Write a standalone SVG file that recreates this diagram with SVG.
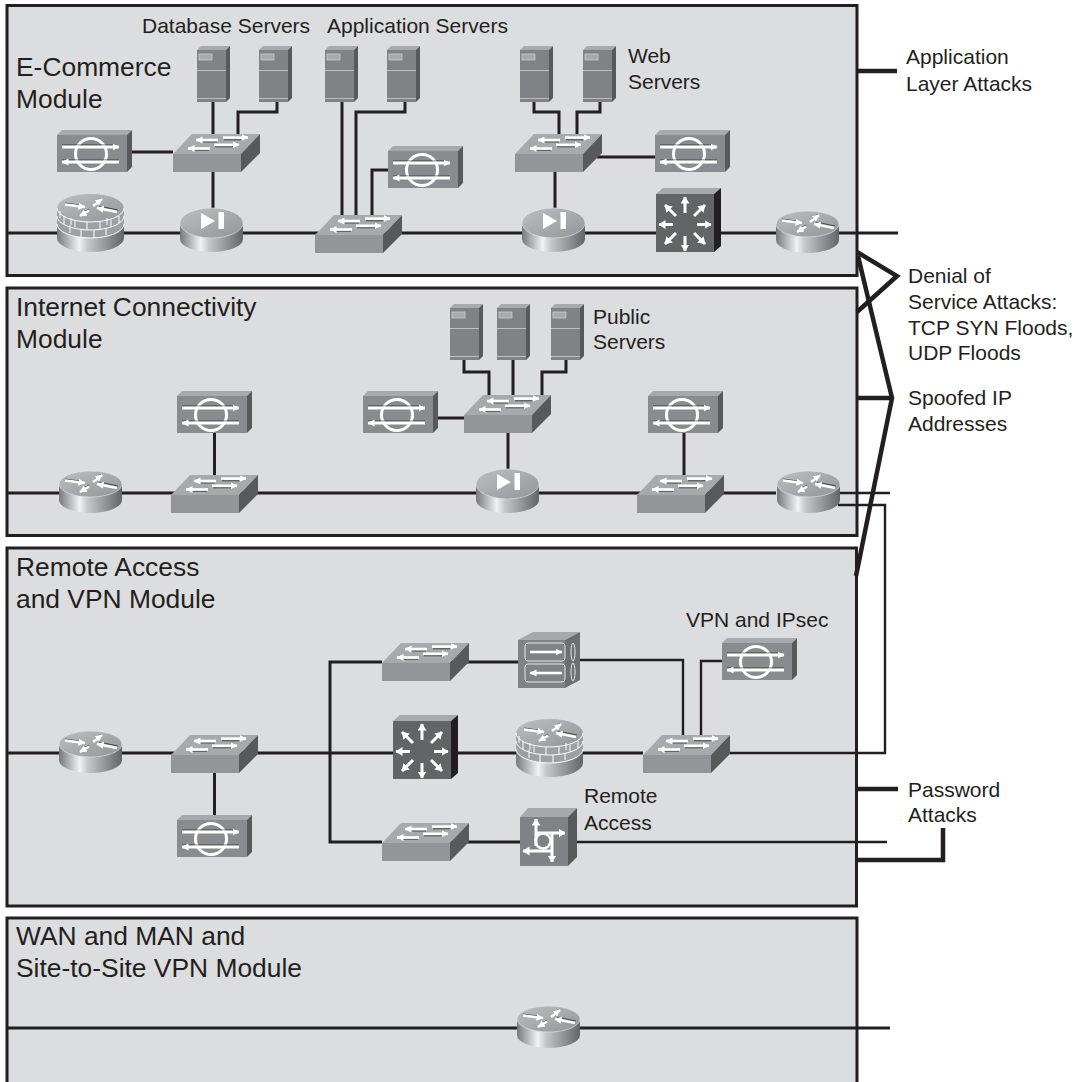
<svg xmlns="http://www.w3.org/2000/svg" width="1079" height="1082" viewBox="0 0 1079 1082">
<style>
text{font-family:"Liberation Sans",Arial,sans-serif;fill:#231f20}
.t{font-size:26.4px}
.s{font-size:21px}
.panel{fill:#dcddde;stroke:#231f20;stroke-width:3}
.c{fill:none;stroke:#231f20;stroke-width:3}
.n{fill:none;stroke:#231f20;stroke-width:2.4}
.k{fill:none;stroke:#231f20;stroke-width:4.5;stroke-linejoin:miter}
.w{fill:none;stroke:#fff;stroke-width:2.6}
.sh{fill:none;stroke:#231f20;stroke-width:.7}
.wf{fill:#fff}
.top{fill:#a7a9ac}
.fr{fill:#939598}
.mid{fill:#898b8e}
.srv{fill:#808285}
.dk{fill:#58595b}
</style>
<defs>
<linearGradient id="metal" x1="0" x2="1" y1="0" y2="0">
<stop offset="0" stop-color="#77787b"/><stop offset=".33" stop-color="#f1f2f2"/><stop offset=".45" stop-color="#c7c8ca"/><stop offset="1" stop-color="#636466"/>
</linearGradient>
<linearGradient id="lid" x1="0" x2="1" y1="0" y2="1">
<stop offset="0" stop-color="#bcbec0"/><stop offset="1" stop-color="#939598"/>
</linearGradient>
<marker id="h" markerUnits="userSpaceOnUse" markerWidth="9" markerHeight="9" refX="6.5" refY="4" orient="auto"><path d="M0,0.5 L7,4 L0,7.5Z" fill="#fff"/></marker>
<marker id="hb" markerUnits="userSpaceOnUse" markerWidth="9" markerHeight="10" refX="6.500" refY="4.500" orient="auto"><path d="M0,0 L7,4.500 L0,9Z" fill="#fff"/></marker>
<g id="switch">
<polygon class="fr" points="0,20 68,20 68,38 0,38"/>
<polygon class="top" points="0,20 19,0 87,0 68,20"/>
<polygon class="dk" points="68,20 87,0 87,19 68,38"/>
<path class="sh" d="M28,8 H44 M51,5.800 H68 M18,16.200 H36 M42,12.800 H60"/>
<path class="w" marker-end="url(#h)" d="M45,6 H23"/>
<path class="w" marker-end="url(#h)" d="M50,3.600 H75"/>
<path class="w" marker-end="url(#h)" d="M37,14.500 H15"/>
<path class="w" marker-end="url(#h)" d="M41,10.800 H66"/>
</g>
<g id="idsbox">
<polygon class="mid" points="0,5 70,5 70,42 0,42"/>
<polygon class="top" points="0,5 5,0 75,0 70,5"/>
<polygon class="dk" points="70,5 75,0 75,37 70,42"/>
<ellipse cx="34" cy="24" rx="15.500" ry="15.500" fill="#898b8e" stroke="#fff" stroke-width="3"/>
<path class="sh" d="M5,15 H58 M5,30 H62"/>
<path fill="none" stroke="#fff" stroke-width="3" marker-end="url(#h)" d="M5,17 H62"/>
<path fill="none" stroke="#fff" stroke-width="3" marker-end="url(#h)" d="M62,32 H5"/>
</g>
<g id="rarrows">
<path class="sh" d="M6,8 L24,10.500 M35,9 L42,3 M40,11 L59,15 M30,14 L22,19"/>
<path class="w" stroke-width="2" marker-end="url(#h)" d="M6,9.500 L26,12"/>
<path class="w" marker-end="url(#h)" d="M34,11 L43,4"/>
<path class="w" marker-end="url(#h)" d="M58,17 L38,13"/>
<path class="w" marker-end="url(#h)" d="M30,15.500 L21,21"/>
</g>
<g id="router">
<path fill="url(#metal)" d="M0,13 V29 A31.500,13 0 0 0 63,29 V13Z"/>
<ellipse cx="31.500" cy="13" rx="31.500" ry="13" fill="url(#lid)" stroke="#e6e7e8" stroke-width=".6"/>
<use href="#rarrows"/>
</g>
<g id="ids">
<path fill="url(#metal)" d="M0,15 V31 A31.500,13 0 0 0 63,31 V15Z"/>
<ellipse cx="31.500" cy="15" rx="31.500" ry="15" fill="url(#lid)" stroke="#e6e7e8" stroke-width=".6"/>
<polygon class="wf" points="21,5 21,21 35,13"/>
<rect class="wf" x="38.500" y="4" width="5.500" height="17"/>
</g>
<g id="fwrouter">
<path fill="url(#metal)" d="M0,14 V44 A33.500,14 0 0 0 67,44 V14Z"/>
<path fill="#9d9fa2" d="M0,14 V30 A33.500,14 0 0 0 67,30 V14Z"/>
<ellipse cx="33.500" cy="14" rx="33.500" ry="14" fill="url(#lid)"/>
<path fill="none" stroke="#fff" stroke-width="1" d="M0,14 A33.500,14 0 0 0 67,14 M0,22 A33.500,14 0 0 0 67,22 M0,30 A33.500,14 0 0 0 67,30"/>
<path fill="none" stroke="#fff" stroke-width="1" d="M7,22 V30 M18,26 V33 M30,28 V36 M43,28 V35 M54,26 V33 M62,22 V29 M13,31 V39 M24,36 V43 M37,36 V44 M49,34 V41 M3,17 V24 M14,24 V31 M50,24 V31"/>
<use href="#rarrows" transform="translate(2,1)"/>
</g>
<g id="mls">
<polygon fill="#636466" points="0,6 58,6 58,64 0,64"/>
<polygon class="top" points="0,6 7,0 65,0 58,6"/>
<polygon fill="#231f20" points="58,6 65,0 65,58 58,64"/>
<g fill="none" stroke="#fff" stroke-width="3">
<path marker-end="url(#hb)" d="M29,25 V9"/>
<path marker-end="url(#hb)" d="M29,48 V63"/>
<path marker-end="url(#hb)" d="M17,36.500 H3"/>
<path marker-end="url(#hb)" d="M41,36.500 H55"/>
<path marker-end="url(#hb)" d="M20,28 L9,17"/>
<path marker-end="url(#hb)" d="M38,28 L49,17"/>
<path marker-end="url(#hb)" d="M20,45 L9,56"/>
<path marker-end="url(#hb)" d="M38,45 L49,56"/>
</g>
</g>
<g id="server">
<polygon class="srv" points="0,4 29,4 29,56 0,56"/>
<polygon class="top" points="0,4 4,0 33,0 29,4"/>
<polygon class="dk" points="29,4 33,0 33,52 29,56"/>
<rect x="2" y="8" width="13" height="6" fill="#a7a9ac" stroke="#d1d3d4" stroke-width=".7"/>
<path stroke="#bcbec0" stroke-width="1" d="M0,24.500 H29 M0,52.500 H29"/>
</g>
<g id="vpnc">
<polygon class="srv" points="0,8 47,8 47,56 0,56"/>
<polygon class="top" points="0,8 15,0 62,0 47,8"/>
<polygon fill="#6d6e71" points="47,8 62,0 62,48 47,56"/>
<rect x="7" y="11" width="40" height="18" rx="3" fill="none" stroke="#e6e7e8" stroke-width="1"/>
<rect x="7" y="32" width="40" height="18" rx="3" fill="none" stroke="#e6e7e8" stroke-width="1"/>
<path class="w" marker-end="url(#h)" d="M12,20 H44"/>
<path class="w" marker-end="url(#h)" d="M44,41 H12"/>
<ellipse cx="55" cy="20" rx="2" ry="9" fill="none" stroke="#e6e7e8" stroke-width="1"/>
<ellipse cx="55" cy="40" rx="2" ry="9" fill="none" stroke="#e6e7e8" stroke-width="1"/>
</g>
<g id="access">
<polygon class="srv" points="0,9 48,9 48,58 0,58"/>
<polygon class="top" points="0,9 8,0 57,0 48,9"/>
<polygon class="dk" points="48,9 57,0 57,49 48,58"/>
<circle cx="23" cy="33" r="7.500" fill="none" stroke="#fff" stroke-width="2.500"/>
<path fill="none" stroke="#fff" stroke-width="3" marker-end="url(#hb)" d="M16,38 V11"/>
<path fill="none" stroke="#fff" stroke-width="3" marker-end="url(#hb)" d="M16,25 H45"/>
<path fill="none" stroke="#fff" stroke-width="3" marker-end="url(#hb)" d="M32,25 V54"/>
<path fill="none" stroke="#fff" stroke-width="3" marker-end="url(#hb)" d="M32,43 H3"/>
</g>
</defs>
<rect width="1079" height="1082" fill="#fff"/>
<g id="modules">
<rect class="panel" x="7" y="5.500" width="850" height="270"/>
<rect class="panel" x="7" y="288" width="850" height="247.500"/>
<rect class="panel" x="7" y="548" width="849.500" height="358"/>
<rect class="panel" x="7" y="918" width="850" height="200"/>
</g>
<g id="connectors">
<path class="c" d="M8,233 H898"/>
<path class="c" d="M132,152 H173 M213,102 V134 M277,102 V112 H238 V134 M213,172 V208"/>
<path class="c" d="M342,102 V215 M405,102 V112 H356 V215 M388,170 H372 V215"/>
<path class="c" d="M534,102 V112 H559 V134 M600,102 V112 H577 V134 M597,157 H655 M555,172 V208"/>
<path class="c" d="M8,493 H776"/>
<path class="n" d="M840,493 H890 M838,505 H885 V753 H730"/>
<path class="c" d="M214.500,433 V475 M464,360 V372 H489 V395 M513,360 V395 M566,360 V372 H542 V395 M438,418 H464 M508,433 V469 M684,433 V475"/>
<path class="c" d="M8,753 H643 M382,662 H330 V842 H382 M445,662 H518 M214.500,773 V815"/>
<path class="n" d="M580,660 H683 V735 M722,661 H701 V735"/>
<path class="c" d="M445,842 H520"/>
<path class="n" d="M577,842 H887"/>
<path class="c" d="M8,1028 H890"/>
<path class="k" d="M857,71 H897"/>
<path class="k" d="M857,252 L897,276 L857,312"/>
<path class="k" d="M857,398 H892 M858,256 L892,398 L856,576"/>
<path class="k" d="M857,789 H898 M857,860 H943 V828"/>
</g>
<g id="ecommerce-nodes">
<g id="db1"><use href="#server" x="197" y="46"/></g>
<g id="db2"><use href="#server" x="259" y="46"/></g>
<g id="app1"><use href="#server" x="325" y="46"/></g>
<g id="app2"><use href="#server" x="387" y="46"/></g>
<g id="web1"><use href="#server" x="520" y="46"/></g>
<g id="web2"><use href="#server" x="583" y="46"/></g>
<g id="ec-ids1"><use href="#idsbox" x="57" y="130"/></g>
<g id="ec-ids2"><use href="#idsbox" x="388" y="146"/></g>
<g id="ec-ids3"><use href="#idsbox" x="655" y="130"/></g>
<g id="ec-sw1"><use href="#switch" x="173" y="134"/></g>
<g id="ec-sw2"><use href="#switch" x="315" y="215"/></g>
<g id="ec-sw3"><use href="#switch" x="515" y="134"/></g>
<g id="ec-fw"><use href="#fwrouter" x="57" y="194"/></g>
<g id="ec-cyl1"><use href="#ids" x="180" y="208"/></g>
<g id="ec-cyl2"><use href="#ids" x="522" y="208"/></g>
<g id="ec-mls"><use href="#mls" x="656" y="188"/></g>
<g id="ec-router"><use href="#router" x="776" y="211"/></g>
</g>
<g id="internet-nodes">
<g id="pub1"><use href="#server" x="450" y="304"/></g>
<g id="pub2"><use href="#server" x="497" y="304"/></g>
<g id="pub3"><use href="#server" x="551" y="304"/></g>
<g id="in-ids1"><use href="#idsbox" x="177" y="391"/></g>
<g id="in-ids2"><use href="#idsbox" x="363" y="391"/></g>
<g id="in-ids3"><use href="#idsbox" x="648" y="391"/></g>
<g id="in-sw1"><use href="#switch" x="171" y="475"/></g>
<g id="in-sw2"><use href="#switch" x="464" y="395"/></g>
<g id="in-sw3"><use href="#switch" x="637" y="475"/></g>
<g id="in-r1"><use href="#router" x="59" y="471"/></g>
<g id="in-r2"><use href="#router" x="777" y="471"/></g>
<g id="in-cyl"><use href="#ids" x="476" y="469"/></g>
</g>
<g id="remote-nodes">
<g id="ra-r1"><use href="#router" x="59" y="731"/></g>
<g id="ra-sw1"><use href="#switch" x="171" y="735"/></g>
<g id="ra-ids1"><use href="#idsbox" x="177" y="815"/></g>
<g id="ra-sw2"><use href="#switch" x="382" y="643"/></g>
<g id="ra-sw3"><use href="#switch" x="382" y="823"/></g>
<g id="ra-sw4"><use href="#switch" x="643" y="735"/></g>
<g id="ra-mls"><use href="#mls" x="393" y="715"/></g>
<g id="ra-fw"><use href="#fwrouter" x="516" y="719"/></g>
<g id="ra-vpnc"><use href="#vpnc" x="518" y="632"/></g>
<g id="ra-access"><use href="#access" x="520" y="808"/></g>
<g id="ra-ids2"><use href="#idsbox" x="722" y="638"/></g>
</g>
<g id="wan-nodes">
<g id="wan-r"><use href="#router" x="517" y="1006"/></g>
</g>
<g id="labels">
<text class="t" x="16" y="76">E-Commerce</text>
<text class="t" x="16" y="108">Module</text>
<text class="s" x="142" y="33">Database Servers</text>
<text class="s" x="327" y="33">Application Servers</text>
<text class="s" x="628" y="63">Web</text>
<text class="s" x="628" y="89">Servers</text>
<text class="s" x="906" y="64">Application</text>
<text class="s" x="906" y="91">Layer Attacks</text>
<text class="s" x="908" y="283">Denial of</text>
<text class="s" x="908" y="309">Service Attacks:</text>
<text class="s" x="908" y="335">TCP SYN Floods,</text>
<text class="s" x="908" y="360">UDP Floods</text>
<text class="s" x="908" y="405">Spoofed IP</text>
<text class="s" x="908" y="431">Addresses</text>
<text class="t" x="16" y="316">Internet Connectivity</text>
<text class="t" x="16" y="348">Module</text>
<text class="s" x="593" y="324">Public</text>
<text class="s" x="593" y="349">Servers</text>
<text class="t" x="16" y="576">Remote Access</text>
<text class="t" x="16" y="608">and VPN Module</text>
<text class="s" x="686" y="627">VPN and IPsec</text>
<text class="s" x="584" y="803">Remote</text>
<text class="s" x="584" y="830">Access</text>
<text class="s" x="908" y="797">Password</text>
<text class="s" x="908" y="822">Attacks</text>
<text class="t" x="16" y="945">WAN and MAN and</text>
<text class="t" x="16" y="977">Site-to-Site VPN Module</text>
</g>
</svg>
